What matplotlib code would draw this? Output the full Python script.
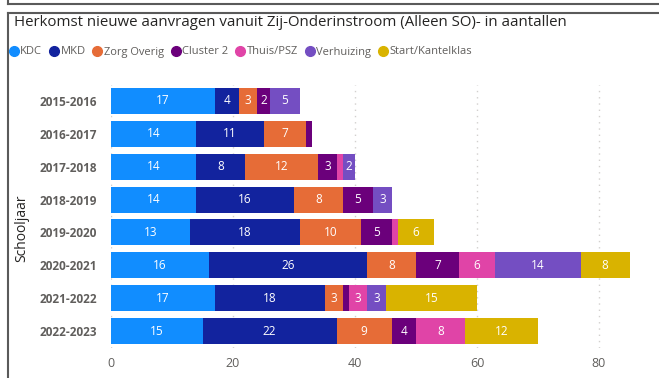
import matplotlib.pyplot as plt
from matplotlib.lines import Line2D
import numpy as np

plt.rcParams["font.family"] = ["Open Sans", "DejaVu Sans"]

TITLE = "Herkomst nieuwe aanvragen vanuit Zij-Onderinstroom (Alleen SO)- in aantallen"

years = ["2015-2016", "2016-2017", "2017-2018", "2018-2019",
         "2019-2020", "2020-2021", "2021-2022", "2022-2023"]
series_names = ["KDC", "MKD", "Zorg Overig", "Cluster 2", "Thuis/PSZ",
                "Verhuizing", "Start/Kantelklas"]
colors = ["#118DFF", "#12239E", "#E66C37", "#6B007B", "#E044A7",
          "#744EC2", "#D9B300"]

kdc = [17, 14, 14, 14, 13, 16, 17, 15]
mkd = [4, 11, 8, 16, 18, 26, 18, 22]
zorg_overig = [3, 7, 12, 8, 10, 8, 3, 9]
cluster_2 = [2, 1, 3, 5, 5, 7, 1, 4]
thuis_psz = [0, 0, 1, 0, 1, 6, 3, 8]
verhuizing = [5, 0, 2, 3, 0, 14, 3, 0]
start_kantelklas = [0, 0, 0, 0, 6, 8, 15, 12]

series = [kdc, mkd, zorg_overig, cluster_2, thuis_psz, verhuizing, start_kantelklas]

W, H = 659, 378
fig = plt.figure(figsize=(W / 100, H / 100), dpi=100)

# plot area in pixel coordinates
x0, x1 = 111, 111 + 88 * 6.1
y_top, y_bot = 84.5, 347.5
ax = fig.add_axes([x0 / W, 1 - y_bot / H, (x1 - x0) / W, (y_bot - y_top) / H])

ypos = np.arange(len(years))
left = np.zeros(len(years))
for name, vals, col in zip(series_names, series, colors):
    vals = np.array(vals, dtype=float)
    ax.barh(ypos, vals, left=left, height=0.79, color=col, linewidth=0)
    # segments of 1 are too narrow for a label
    for y, l, v in zip(ypos, left, vals):
        if v >= 2:
            ax.text(l + v / 2, y, f"{int(v)}", ha="center", va="center",
                    color="white", fontsize=8.5)
    left += vals

ax.set_xlim(0, 88)
ax.set_ylim(len(years) - 0.5, -0.5)
ax.set_xticks([0, 20, 40, 60, 80])
ax.set_yticks(ypos)
ax.set_yticklabels(years, fontsize=8.5, fontweight="bold", color="#605E5C")
ax.tick_params(axis="x", length=0, pad=7, labelsize=9, labelcolor="#605E5C")
ax.tick_params(axis="y", length=0, pad=10)
ax.xaxis.grid(True, linestyle=(0, (1, 3.5)), color="#D2D0CE", linewidth=1)
ax.set_axisbelow(True)
for s in ax.spines.values():
    s.set_visible(False)

fig.text(22 / W, 1 - 228 / H, "Schooljaar", rotation=90, ha="center",
         va="center", fontsize=10, color="#252423")

fig.text(14 / W, 1 - 22 / H, TITLE, ha="left", va="center",
         fontsize=10.8, color="#252423")

# legend
handles = [Line2D([], [], marker="o", linestyle="", markersize=7,
                  markerfacecolor=c, markeredgecolor=c) for c in colors]
fig.legend(handles, series_names, loc="center left",
           bbox_to_anchor=(7 / W, 1 - 52 / H), ncol=len(series_names),
           frameon=False, fontsize=8, labelcolor="#605E5C",
           handletextpad=0.0, columnspacing=0.45, handlelength=1.2,
           borderaxespad=0, borderpad=0)

# surrounding visual frames
frame = dict(color="#5A5A5A", linewidth=1.5, transform=fig.transFigure)
fig.add_artist(Line2D([8 / W, 1], [1 - 4 / H, 1 - 4 / H], **frame))
fig.add_artist(Line2D([8 / W, 8 / W], [1, 1 - 4 / H], **frame))
fig.add_artist(Line2D([8 / W, 1], [1 - 13 / H, 1 - 13 / H], **frame))
fig.add_artist(Line2D([8 / W, 8 / W], [1 - 13 / H, 0], **frame))

fig.savefig("out.png", dpi=100)
